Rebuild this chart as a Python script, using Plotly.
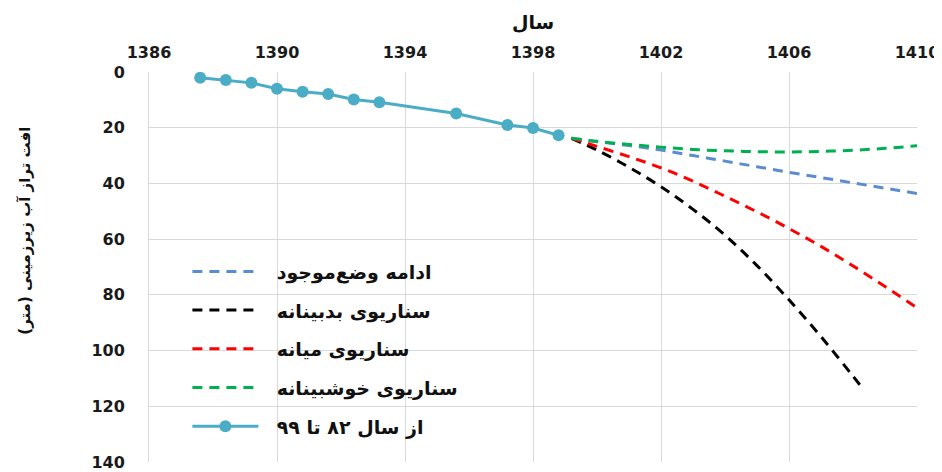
import plotly.graph_objects as go

# Historical data (از سال ۸۲ تا ۹۹)
hist_years = [1387.6, 1388.4, 1389.2, 1390.0, 1390.8, 1391.6, 1392.4, 1393.2, 1395.6, 1397.2, 1398.0, 1398.8]
hist_vals = [2.1, 2.9, 3.9, 6.0, 7.1, 7.9, 9.9, 10.9, 14.9, 19.0, 20.1, 22.7]

# Scenario projections
scen_years = [1399.2, 1400, 1401, 1402, 1403, 1404, 1405, 1406, 1407, 1408, 1409, 1410]
blue_vals = [23.8, 25.0, 26.4, 28.0, 30.0, 32.0, 34.0, 36.0, 37.9, 39.8, 41.7, 43.6]
green_vals = [23.8, 24.9, 26.0, 27.0, 27.8, 28.3, 28.6, 28.7, 28.5, 28.1, 27.4, 26.5]
red_vals = [23.8, 26.7, 30.4, 34.4, 39.2, 44.6, 50.2, 56.2, 62.6, 69.6, 77.0, 84.6]
black_years = [1399.2, 1400, 1401, 1402, 1403, 1404, 1405, 1406, 1407, 1408, 1408.25]
black_vals = [23.8, 28.0, 34.2, 41.2, 49.3, 58.6, 69.5, 81.8, 95.0, 109.2, 112.8]

names = ["ادامه وضع‌موجود", "سناریوی بدبینانه", "سناریوی میانه", "سناریوی خوشبینانه", "از سال ۸۲ تا ۹۹"]
x_ticks = [1386, 1390, 1394, 1398, 1402, 1406, 1410]
y_ticks = [0, 20, 40, 60, 80, 100, 120, 140]

fa_font = "DejaVu Sans"
num_font = "DejaVu Sans"
pad = "\u00a0\u00a0"

fig = go.Figure()
dash = "10px,7px"
fig.add_trace(go.Scatter(x=scen_years, y=blue_vals, mode="lines", name=pad + names[0], legendgroup="a",
                         line=dict(color="#5B8BD0", width=3, dash=dash, shape="spline")))
fig.add_trace(go.Scatter(x=black_years, y=black_vals, mode="lines", name=pad + names[1], legendgroup="b",
                         line=dict(color="#000000", width=3, dash=dash, shape="spline")))
fig.add_trace(go.Scatter(x=scen_years, y=red_vals, mode="lines", name=pad + names[2], legendgroup="c",
                         line=dict(color="#FF0000", width=3, dash=dash, shape="spline")))
fig.add_trace(go.Scatter(x=scen_years, y=green_vals, mode="lines", name=pad + names[3], legendgroup="d",
                         line=dict(color="#00B050", width=3, dash=dash, shape="spline")))
fig.add_trace(go.Scatter(x=hist_years, y=hist_vals, mode="lines+markers", name=pad + names[4], legendgroup="e",
                         line=dict(color="#4BACC6", width=3),
                         marker=dict(color="#4BACC6", size=12)))

# page body has an 8px margin, so the figure is 8px smaller and margins shifted
fig.update_layout(
    width=934, height=464,
    margin=dict(l=141, r=25, t=64, b=10, autoexpand=False),
    paper_bgcolor="white", plot_bgcolor="white",
    showlegend=True,
    legend=dict(x=0.05, y=0.537, xanchor="left", yanchor="top",
                bgcolor="rgba(0,0,0,0)", traceorder="grouped", tracegroupgap=11,
                itemwidth=66,
                font=dict(family=fa_font, size=19, color="#111111", weight="bold")),
    xaxis=dict(side="top", range=[1386, 1410], tickmode="array", tickvals=x_ticks,
               ticktext=[str(v) for v in x_ticks], automargin=False,
               showgrid=True, gridcolor="#D9D9D9", gridwidth=1,
               showline=False, zeroline=False, ticks="", ticklabelstandoff=10,
               tickfont=dict(family=num_font, size=16, color="#1a1a1a", weight="bold")),
    yaxis=dict(range=[140, 0], tickmode="array", tickvals=y_ticks,
               ticktext=[str(v) for v in y_ticks], automargin=False,
               showgrid=True, gridcolor="#D9D9D9", gridwidth=1,
               showline=True, linecolor="#D9D9D9", linewidth=1,
               zeroline=False, ticks="", ticklabelstandoff=20,
               tickfont=dict(family=num_font, size=16, color="#1a1a1a", weight="bold")),
    annotations=[
        dict(text="سال", xref="paper", yref="paper", x=0.5, y=1.128, xanchor="center", yanchor="middle",
             showarrow=False, font=dict(family=fa_font, size=19, color="#111111", weight="bold")),
        dict(text="افت تراز آب زیرزمینی (متر)", xref="paper", yref="paper", x=-0.161, y=0.594,
             xanchor="center", yanchor="middle", textangle=-90, showarrow=False,
             font=dict(family=fa_font, size=15, color="#111111", weight="bold")),
    ],
)

fig.write_html("out.html")
